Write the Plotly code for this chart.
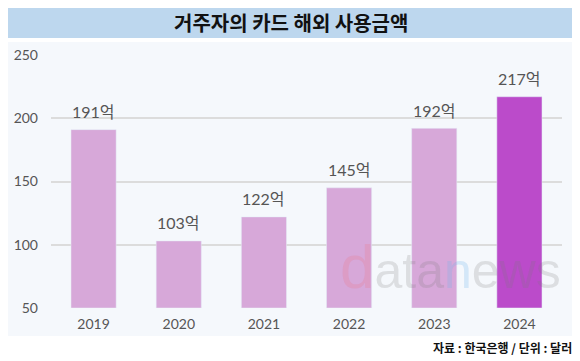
import plotly.graph_objects as go

years = ["2019", "2020", "2021", "2022", "2023", "2024"]
values = [191, 103, 122, 145, 192, 217]
labels = ["191억", "103억", "122억", "145억", "192억", "217억"]
colors = ["#D7A8D9"] * 5 + ["#BB4BCA"]

# the page body adds an 8px offset; compensate
O = 8
W, H = 580 - O, 361 - O
PL, PR, PT, PB = 51, 562, 55, 308  # plot area in reference pixels
L, T = PL - O, PT - O
pw, ph = PR - PL, PB - PT
R, B = W - L - pw, H - T - ph

def px(x):
    return (x - PL) / pw

def py(y):
    return (PB - y) / ph

fig = go.Figure()
fig.add_trace(go.Bar(x=years, y=[v - 50 for v in values], base=50, marker_color=colors,
                     width=0.53, hoverinfo="skip"))

for i, (v, t) in enumerate(zip(values, labels)):
    fig.add_annotation(x=i, y=v, text=t, showarrow=False, yshift=18, yanchor="middle",
                       font=dict(family="Lato, Noto Sans CJK KR", size=16, color="#555555"))

shapes = [
    dict(type="rect", xref="paper", yref="paper", x0=px(4), x1=px(575), y0=py(336), y1=py(42),
         fillcolor="#F5F8FC", line_width=0, layer="below"),
    dict(type="rect", xref="paper", yref="paper", x0=px(4), x1=px(575), y0=py(38), y1=py(2),
         fillcolor="#BDD7EE", line_width=0, layer="below"),
]

fig.add_annotation(xref="paper", yref="paper", x=px(291), y=py(22), xanchor="center", yanchor="middle",
                   text="<b>거주자의 카드 해외 사용금액</b>",
                   showarrow=False, font=dict(family="Noto Sans CJK KR", size=20, color="#111111"))
fig.add_annotation(xref="paper", yref="paper", x=px(574), y=py(347), xanchor="right", yanchor="middle",
                   text="<b>자료 : 한국은행 / 단위 : 달러</b>", showarrow=False,
                   font=dict(family="Noto Sans CJK KR", size=12, color="#111111"))
fig.add_annotation(xref="paper", yref="paper", x=px(450), y=py(266), xanchor="center", yanchor="middle",
                   text="<span style='color:rgba(235,120,140,0.25);font-size:62px'>d</span>"
                        "<span style='color:rgba(120,120,120,0.2)'>ata</span>"
                        "<span style='color:rgba(110,180,235,0.25)'>n</span>"
                        "<span style='color:rgba(120,120,120,0.2)'>ews</span>",
                   showarrow=False, font=dict(family="Liberation Sans", size=50))

fig.update_layout(
    width=W, height=H, margin=dict(l=L, r=R, t=T, b=B),
    paper_bgcolor="white", plot_bgcolor="rgba(0,0,0,0)",
    shapes=shapes, showlegend=False, bargap=0.47,
    xaxis=dict(type="category", range=[-0.5, 5.5], showgrid=False, showline=False, ticks="",
               automargin=False, ticklabelstandoff=6,
               tickfont=dict(family="Lato", size=14, color="#555555")),
    yaxis=dict(range=[50, 250], tickvals=[50, 100, 150, 200, 250], gridcolor="#DCDCDC", gridwidth=1.5,
               zeroline=False, showline=False, ticks="", ticklabelstandoff=12, automargin=False,
               tickfont=dict(family="Lato", size=14, color="#555555")),
)
fig.write_html("out.html")
